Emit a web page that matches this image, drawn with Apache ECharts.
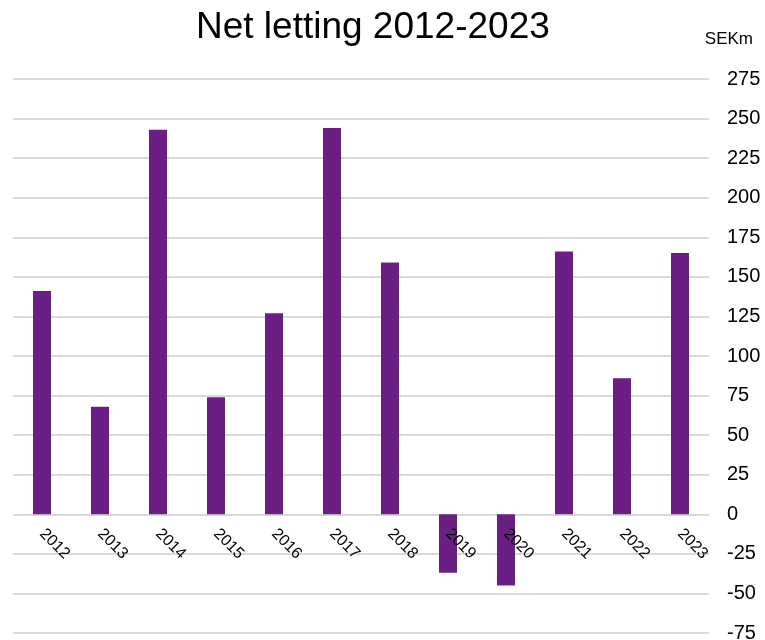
<!DOCTYPE html>
<html>
<head>
<meta charset="utf-8">
<script src="https://cdn.jsdelivr.net/npm/echarts@6/dist/echarts.min.js"></script>
<style>
html,body{margin:0;padding:0;background:#fff;}
#chart{width:765px;height:640px;}
</style>
</head>
<body>
<div id="chart"></div>
<script>
const years = ['2012','2013','2014','2015','2016','2017','2018','2019','2020','2021','2022','2023'];
const netLetting = [141, 68, 243, 74, 127, 244, 159, -37, -45, 166, 86, 165];
const yMin = -75, yMax = 275, yStep = 25;
const titleText = 'Net letting 2012-2023';
const unitText = 'SEKm';

const W = 765, H = 640;
const gridTop = 79, gridBottom = 7;
const gridHeight = H - gridTop - gridBottom;
// place category axis at the zero line of the value scale
const zeroOffset = -gridHeight * (0 - yMin) / (yMax - yMin);

const chart = echarts.init(document.getElementById('chart'));
chart.setOption({
  animation: false,
  backgroundColor: '#ffffff',
  textStyle: { fontFamily: 'Liberation Sans, Arial, sans-serif' },
  title: [{
    text: titleText,
    left: 191, top: 4,
    textStyle: { fontSize: 37, fontWeight: 'normal', color: '#000', fontFamily: 'Liberation Sans, Arial, sans-serif' }
  }, {
    text: unitText,
    right: 7, top: 26,
    textStyle: { fontSize: 17, fontWeight: 'normal', color: '#000', fontFamily: 'Liberation Sans, Arial, sans-serif' }
  }],
  grid: { left: 13, right: 56, top: gridTop, bottom: gridBottom, containLabel: false, outerBoundsMode: 'none' },
  xAxis: {
    type: 'category',
    data: years,
    z: 10,
    offset: zeroOffset,
    axisLine: { show: false, onZero: false },
    axisTick: { show: false },
    axisLabel: { rotate: -45, fontSize: 16, color: '#000', margin: 17 },
    splitLine: { show: false }
  },
  yAxis: {
    type: 'value',
    position: 'right',
    min: yMin, max: yMax, interval: yStep,
    axisLine: { show: false },
    axisTick: { show: false },
    axisLabel: { fontSize: 20, color: '#000', margin: 18 },
    splitLine: { show: true, lineStyle: { color: '#d9d9d9', width: 2 } }
  },
  series: [{
    type: 'bar',
    data: netLetting,
    barWidth: 18,
    itemStyle: { color: '#6b1e83' }
  }]
});
</script>
</body>
</html>
